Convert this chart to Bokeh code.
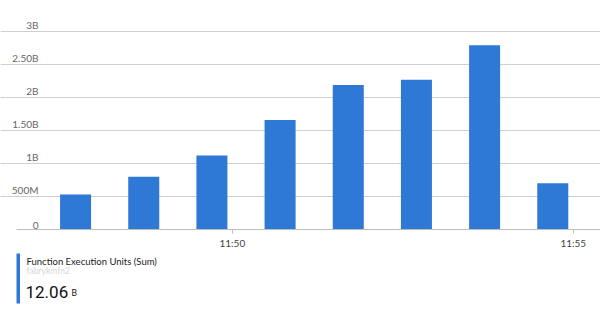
import pandas as pd
from bokeh.plotting import figure
from bokeh.layouts import column
from bokeh.models import (Range1d, FixedTicker, DatetimeTickFormatter, Grid,
                          LabelSet, ColumnDataSource, Label)
from bokeh.core.properties import value
from bokeh.embed import file_html
from bokeh.resources import INLINE

# Function execution units per minute
minutes = ["11:48", "11:49", "11:50", "11:51", "11:52", "11:53", "11:54", "11:55"]
units = [0.53e9, 0.80e9, 1.12e9, 1.66e9, 2.19e9, 2.27e9, 2.79e9, 0.70e9]

y_ticks = [0, 0.5e9, 1e9, 1.5e9, 2e9, 2.5e9, 3e9]
y_tick_labels = ["0", "500M", "1B", "1.50B", "2B", "2.50B", "3B"]
x_ticks = ["11:50", "11:55"]

metric_name = "Function Execution Units (Sum)"
resource_name = "fabrykmfn2"
total_unit = "B"

DAY = "2024-01-01 "
BLUE = "#2e78d6"
GRID = "#cfcfcf"
FONT = "Lato"
BIG_FONT = "Roboto"

MS_PER_PX = 60000 / 68.2   # horizontal scale of the time axis
GUTTER_PX = 16             # space left of the grid for the value labels


def ts(hhmm):
    return pd.Timestamp(DAY + hhmm)


def ms(t):
    return t.value / 1e6


times = [ts(m) for m in minutes]
bar_x = [t - pd.Timedelta(seconds=18) for t in times]
bar_width = 27.3 * 1000  # ms

grid_start = times[0] - pd.Timedelta(seconds=70)
x_end = times[-1] + pd.Timedelta(seconds=24)
x_start = grid_start - pd.Timedelta(milliseconds=GUTTER_PX * MS_PER_PX)

# leave a little headroom above the top grid line for its label
y_top = max(y_ticks) * 209 / 198

p = figure(width=600, height=251, x_axis_type="datetime",
           x_range=Range1d(x_start, x_end), y_range=Range1d(0, y_top),
           y_axis_location=None, toolbar_location=None,
           output_backend="svg", min_border_left=0, min_border_right=0,
           min_border_top=20, min_border_bottom=22)
p.outline_line_color = None
p.background_fill_color = "white"
p.border_fill_color = "white"
p.xgrid.visible = False

grid_bounds = (ms(grid_start), ms(x_end))
p.add_layout(Grid(dimension=1, ticker=FixedTicker(ticks=y_ticks),
                  bounds=grid_bounds, grid_line_color=GRID,
                  grid_line_width=1))

src = ColumnDataSource(dict(x=bar_x, top=units))
p.vbar(x="x", top="top", width=bar_width, bottom=0, source=src,
       fill_color=BLUE, line_color=None)

# x axis
ax = p.xaxis[0]
ax.bounds = grid_bounds
ax.ticker = FixedTicker(ticks=[ms(ts(t)) for t in x_ticks])
ax.formatter = DatetimeTickFormatter(minutes="%H:%M", hourmin="%H:%M",
                                     hours="%H:%M", minsec="%H:%M")
ax.axis_line_color = "#bdbdbd"
ax.major_tick_line_color = "#bdbdbd"
ax.major_tick_out = 4
ax.major_tick_in = 0
ax.minor_tick_line_color = None
ax.major_label_text_font = FONT
ax.major_label_text_font_size = "10px"
ax.major_label_text_color = "#444444"
ax.major_label_standoff = 3

# y labels sit above their grid lines
ylab = ColumnDataSource(dict(y=y_ticks, text=y_tick_labels))
p.add_layout(LabelSet(x=38, y="y", text="text", source=ylab, x_units="screen",
                      text_align="right", text_baseline="bottom", y_offset=1,
                      text_font=value(FONT), text_font_size="10px",
                      text_color="#666666"))

# summary block below the chart (pixel coordinates)
s = figure(width=600, height=60, x_range=Range1d(0, 600), y_range=Range1d(0, 60),
           x_axis_location=None, y_axis_location=None, toolbar_location=None,
           output_backend="svg", min_border=0)
s.outline_line_color = None
s.xgrid.visible = False
s.ygrid.visible = False
s.quad(left=[16], right=[19.5], bottom=[8], top=[58], fill_color=BLUE,
       line_color=None)
s.add_layout(Label(x=26, y=45, text=metric_name, text_font=FONT,
                   text_font_size="9.5px", text_color="#222222"))
s.add_layout(Label(x=26, y=36, text=resource_name, text_font=FONT,
                   text_font_size="8.5px", text_color="#d8d8d8"))
total = f"{sum(units) / 1e9:.2f}"
s.add_layout(Label(x=25, y=14, text=total, text_font=BIG_FONT,
                   text_font_size="17px", text_color="#111111"))
s.add_layout(Label(x=71, y=14, text=total_unit, text_font=FONT,
                   text_font_size="8.5px", text_color="#111111"))

open("out.html", "w").write(file_html(column(p, s, spacing=0), INLINE))
